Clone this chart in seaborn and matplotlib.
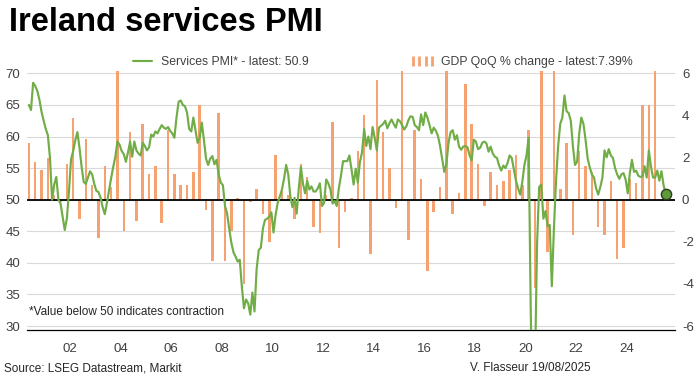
import matplotlib
matplotlib.use("Agg")
import matplotlib.pyplot as plt
from matplotlib.lines import Line2D
from matplotlib.ticker import MultipleLocator, FuncFormatter
import numpy as np
import pandas as pd
import seaborn as sns

# Monthly services PMI, May 2000 - Jul 2025
pmi_start = "2000-05"
pmi = [
    65.0, 64.2, 68.5, 68.0, 67.2, 65.8, 63.9, 62.5, 61.2, 60.2,
    56.6, 50.0, 52.4, 53.6, 50.0, 49.4, 47.3, 45.2, 47.0, 51.3,
    56.4, 57.7, 59.4, 60.7, 58.2, 55.2, 52.8, 52.5, 53.5, 54.5,
    54.0, 52.5, 51.4, 51.2, 50.3, 48.8, 47.7, 49.5, 51.5, 53.4,
    55.2, 56.8, 59.2, 58.7, 57.7, 57.2, 56.0, 57.5, 59.2, 56.8,
    59.2, 57.8, 57.3, 57.0, 59.0, 58.5, 57.8, 58.3, 60.3, 60.0,
    60.8, 60.5, 61.2, 61.8, 61.4, 61.2, 61.5, 60.9, 60.5, 59.8,
    63.0, 65.5, 65.7, 65.0, 64.8, 63.8, 61.2, 60.8, 63.0, 61.0,
    59.0, 59.8, 62.2, 59.5, 56.5, 55.5, 56.5, 56.9, 55.6, 56.3,
    54.0, 52.7, 52.3, 49.0, 47.8, 45.4, 43.2, 41.7, 41.0, 40.2,
    40.5, 36.2, 32.8, 34.2, 33.6, 31.8, 35.3, 32.3, 39.0, 42.0,
    42.4, 45.5, 46.8, 47.0, 47.3, 48.0, 44.8, 47.6, 49.5, 50.5,
    51.6, 53.3, 55.5, 54.0, 50.5, 48.8, 50.3, 47.8, 51.8, 55.2,
    52.5, 51.0, 53.0, 51.6, 52.1, 51.3, 51.3, 51.8, 52.6, 49.0,
    49.5, 53.2, 52.6, 51.6, 49.4, 49.8, 49.0, 51.8, 53.8, 56.1,
    56.1, 56.1, 57.0, 54.8, 52.4, 54.9, 52.7, 56.0, 57.5, 61.2,
    58.5, 60.0, 58.0, 61.5, 59.8, 57.8, 61.4, 61.7, 62.0, 62.5,
    61.3, 62.1, 62.7, 62.0, 61.4, 62.7, 62.4, 61.8, 61.1, 61.6,
    62.6, 63.2, 63.1, 61.8, 61.5, 61.0, 63.5, 61.8, 63.8, 63.0,
    61.8, 60.5, 61.4, 60.9, 60.1, 58.5, 56.5, 54.4, 55.6, 59.0,
    60.7, 61.0, 59.5, 60.2, 58.4, 57.9, 58.4, 58.5, 58.3, 57.0,
    56.2, 59.5, 59.2, 58.0, 58.2, 59.0, 59.2, 58.9, 57.6, 58.4,
    57.3, 56.8, 56.6, 55.4, 54.6, 55.4, 55.0, 55.8, 57.0, 56.6,
    54.8, 53.0, 51.8, 50.8, 52.8, 55.5, 57.0, 59.8, 32.5, 13.9,
    23.0, 43.0, 52.0, 52.4, 47.0, 48.2, 45.8, 46.0, 36.3, 45.5,
    53.0, 58.5, 62.0, 63.0, 66.5, 64.0, 63.7, 62.5, 58.5, 55.5,
    56.0, 60.5, 63.0, 62.0, 59.5, 56.5, 55.1, 54.0, 53.5, 51.8,
    50.8, 52.0, 53.5, 57.8, 56.7, 58.0, 57.0, 56.6, 55.0, 54.0,
    53.3, 54.0, 54.2, 53.2, 51.0, 54.2, 56.3, 54.4, 54.6, 53.8,
    53.6, 53.7, 55.3, 53.5, 57.8, 55.3, 53.5, 53.5, 54.6, 53.0,
    54.5, 52.3, 50.9,
]

# Quarterly GDP % change, Q2 2000 - Q1 2025
gdp_start = "2000Q2"
gdp = [
    2.7, 1.8, 1.4, 2.0, 0.2, -0.1, 1.7, 3.9, -0.9, 2.9,
    0.7, -1.8, 1.6, 0.6, 6.5, -1.5, 3.2, -1.0, 3.6, 1.2,
    1.6, -1.1, 3.3, 1.2, 0.7, 0.7, 1.3, 4.5, -0.5, -2.9,
    4.1, -2.9, -1.5, 0.1, -4.0, -0.1, 0.5, -0.7, -2.0, 2.1,
    0.4, 0.2, -0.9, 1.7, 1.1, -1.3, -1.6, 0.2, 3.7, -2.3,
    -0.6, 0.1, 2.3, 4.0, -2.6, 5.7, 3.2, 1.5, -0.4, 21.0,
    -1.9, 3.3, 1.0, -3.4, -0.6, 0.6, 7.5, -0.7, 0.3, 5.5,
    3.6, 1.7, -0.3, 1.3, 0.7, 0.9, 1.4, 2.1, 0.7, 3.3,
    -4.2, 9.0, -2.5, 9.5, 0.5, 2.7, -1.7, 2.3, 1.6, 1.3,
    -1.3, -1.7, 0.9, -2.8, -2.3, 1.0, 0.8, 4.5, 4.5, 7.39,
]

GREEN = "#70AD47"
ORANGE = "#F6A170"
GREY = "#404040"

months = pd.period_range(pmi_start, periods=len(pmi), freq="M")
pmi_df = pd.DataFrame({"t": months.year + (months.month - 0.5) / 12, "pmi": pmi})

quarters = pd.period_range(gdp_start, periods=len(gdp), freq="Q")
gdp_df = pd.DataFrame({"t": quarters.year + (quarters.quarter * 3 - 1.5) / 12, "gdp": gdp})

sns.set_style("white")
plt.rcParams["font.family"] = ["Liberation Sans", "DejaVu Sans"]
plt.rcParams["axes.unicode_minus"] = False

fig = plt.figure(figsize=(7, 3.76), dpi=100)
ax = fig.add_axes([27 / 700, 1 - 330 / 376, 648 / 700, 259 / 376])

# right axis maps GDP onto the PMI scale: 50 <-> 0, 70 <-> 6
to_gdp = lambda p: (p - 50) * 0.3
to_pmi = lambda g: g / 0.3 + 50

ax.bar(gdp_df["t"], gdp_df["gdp"] / 0.3, bottom=50, width=0.1,
       color=ORANGE, linewidth=0, zorder=2)
ax.axhline(50, color="black", lw=1.3, zorder=2.5)
sns.lineplot(data=pmi_df, x="t", y="pmi", ax=ax, color=GREEN, lw=1.55, zorder=3)
last = pmi_df.iloc[[-1]]
sns.scatterplot(data=last, x="t", y="pmi", ax=ax, s=55, color="#5E9A3A",
                edgecolor="#2b3d1f", linewidth=1, zorder=4, legend=False)

ax.set_xlim(2000.30, 2025.91)
ax.set_ylim(29.37, 70.37)
ax.set_xlabel("")
ax.set_ylabel("")

ax.yaxis.set_major_locator(MultipleLocator(5))
ax.grid(axis="y", color="#d9d9d9", lw=0.8)
ax.set_axisbelow(True)
ax.tick_params(axis="y", length=0, labelsize=9.5, colors=GREY, pad=5)

ax.xaxis.set_major_locator(MultipleLocator(2))
ax.xaxis.set_minor_locator(MultipleLocator(0.25))
ax.xaxis.set_major_formatter(FuncFormatter(lambda v, p: f"{int(round(v)) % 100:02d}"))
ax.tick_params(axis="x", which="major", length=5, width=0.8, color="black",
               labelsize=9.5, labelcolor=GREY, pad=4)
ax.tick_params(axis="x", which="minor", length=3, width=0.8, color="black")

for side in ["left", "right", "top"]:
    ax.spines[side].set_visible(False)
ax.spines["bottom"].set_color("black")
ax.spines["bottom"].set_linewidth(0.9)

sec = ax.secondary_yaxis("right", functions=(to_gdp, to_pmi))
sec.set_yticks(range(-6, 7, 2))
sec.tick_params(length=0, labelsize=9.5, colors=GREY, pad=5)
sec.spines["right"].set_visible(False)

ax.text(0.003, 0.07, "*Value below 50 indicates contraction", transform=ax.transAxes,
        fontsize=8.5, color="#262626", va="center", ha="left")

handles = [
    Line2D([0], [0], color=GREEN, lw=1.55),
    Line2D([], [], ls="none", marker="|", ms=7, mew=2, color=ORANGE),
]
labels = ["Services PMI* - latest: 50.9", "GDP QoQ % change - latest:7.39%"]
fig.legend(handles, labels, ncol=2, numpoints=4, frameon=False, loc="center",
           bbox_to_anchor=(0.544, 0.835), fontsize=8.8, columnspacing=8.2,
           handlelength=2.2, handletextpad=0.4, labelcolor=GREY)

fig.text(0.013, 0.94, "Ireland services PMI", fontsize=23.5, fontweight="bold",
         va="center", ha="left", color="black")
fig.text(0.006, 0.021, "Source: LSEG Datastream, Markit", fontsize=8.5,
         color="#262626", va="center", ha="left")
fig.text(0.758, 0.021, "V. Flasseur 19/08/2025", fontsize=8.5,
         color="#262626", va="center", ha="center")

fig.savefig("out.png", dpi=100)
